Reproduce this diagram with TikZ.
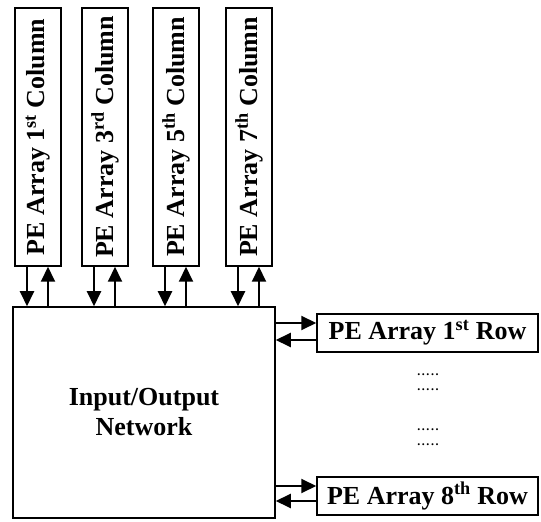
\documentclass[tikz,border=0pt]{standalone}
\usepackage{fontspec}
\setmainfont{Liberation Serif}
\usetikzlibrary{
		positioning,
		arrows.meta
	}
\tikzset{
		>={Triangle[length=15pt,width=14pt]}
	}
\tikzset{
		colbox/.style={draw, line width=1.5pt, minimum width=46pt, minimum height=258pt, inner sep=0pt, font=\fontsize{26}{30}\selectfont\bfseries},
		rowbox/.style={draw, line width=1.5pt, minimum width=221pt, minimum height=38pt, inner sep=0pt, font=\fontsize{26}{30}\selectfont\bfseries},
		netbox/.style={draw, line width=1.5pt, minimum width=262pt, minimum height=211pt, align=center, font=\fontsize{26}{30}\selectfont\bfseries},
		dots/.style={inner sep=0pt, font=\fontsize{12}{12}\selectfont\bfseries},
		link/.style={line width=2pt, ->}
	}
\newcommand\dotrow{.\kern1.6pt.\kern1.6pt.\kern1.6pt.\kern1.6pt.}

\begin{document}
\begin{tikzpicture}[x=1pt, y=1pt] % (one unit = one pixel of the 541x522 picture)
		\useasboundingbox (0,0) rectangle (541,522);
		% the column arrays on top
		\foreach \cx/\n/\s [count=\i from 1] in {38/1/st,105/3/rd,176/5/th,249/7/th}{
			\node[colbox] (c\i) at (\cx,385) {\rotatebox{90}{PE Array \n\textsuperscript{\s} Column}};
		}
		\node[netbox] (io) at (144,109.5) {Input/Output\\Network};
		% the row arrays on the right
		\node[rowbox] (r1) at (427.5,189) {PE Array 1\textsuperscript{st} Row};
		\node[rowbox] (r8) at (427.5,26) {PE Array 8\textsuperscript{th} Row};
		\foreach \dy [count=\j from 1] in {147,132,92,77}{
			\node[dots] (d\j) at (428,\dy) {\dotrow};
		}
		\foreach \i in {1,...,4}{
			\draw[link] ([xshift=-11pt]c\i.south) -- ([xshift=-11pt]c\i.south |- io.north);
			\draw[link] ([xshift=10pt]c\i.south |- io.north) -- ([xshift=10pt]c\i.south);
		}
		\draw[link] ([yshift=10pt]r1.west -| io.east) -- ([yshift=10pt]r1.west);
		\draw[link] ([yshift=-7pt]r1.west) -- ([yshift=-7pt]r1.west -| io.east);
		\draw[link] ([yshift=10pt]r8.west -| io.east) -- ([yshift=10pt]r8.west);
		\draw[link] ([yshift=-5pt]r8.west) -- ([yshift=-5pt]r8.west -| io.east);
	\end{tikzpicture}
\end{document}
